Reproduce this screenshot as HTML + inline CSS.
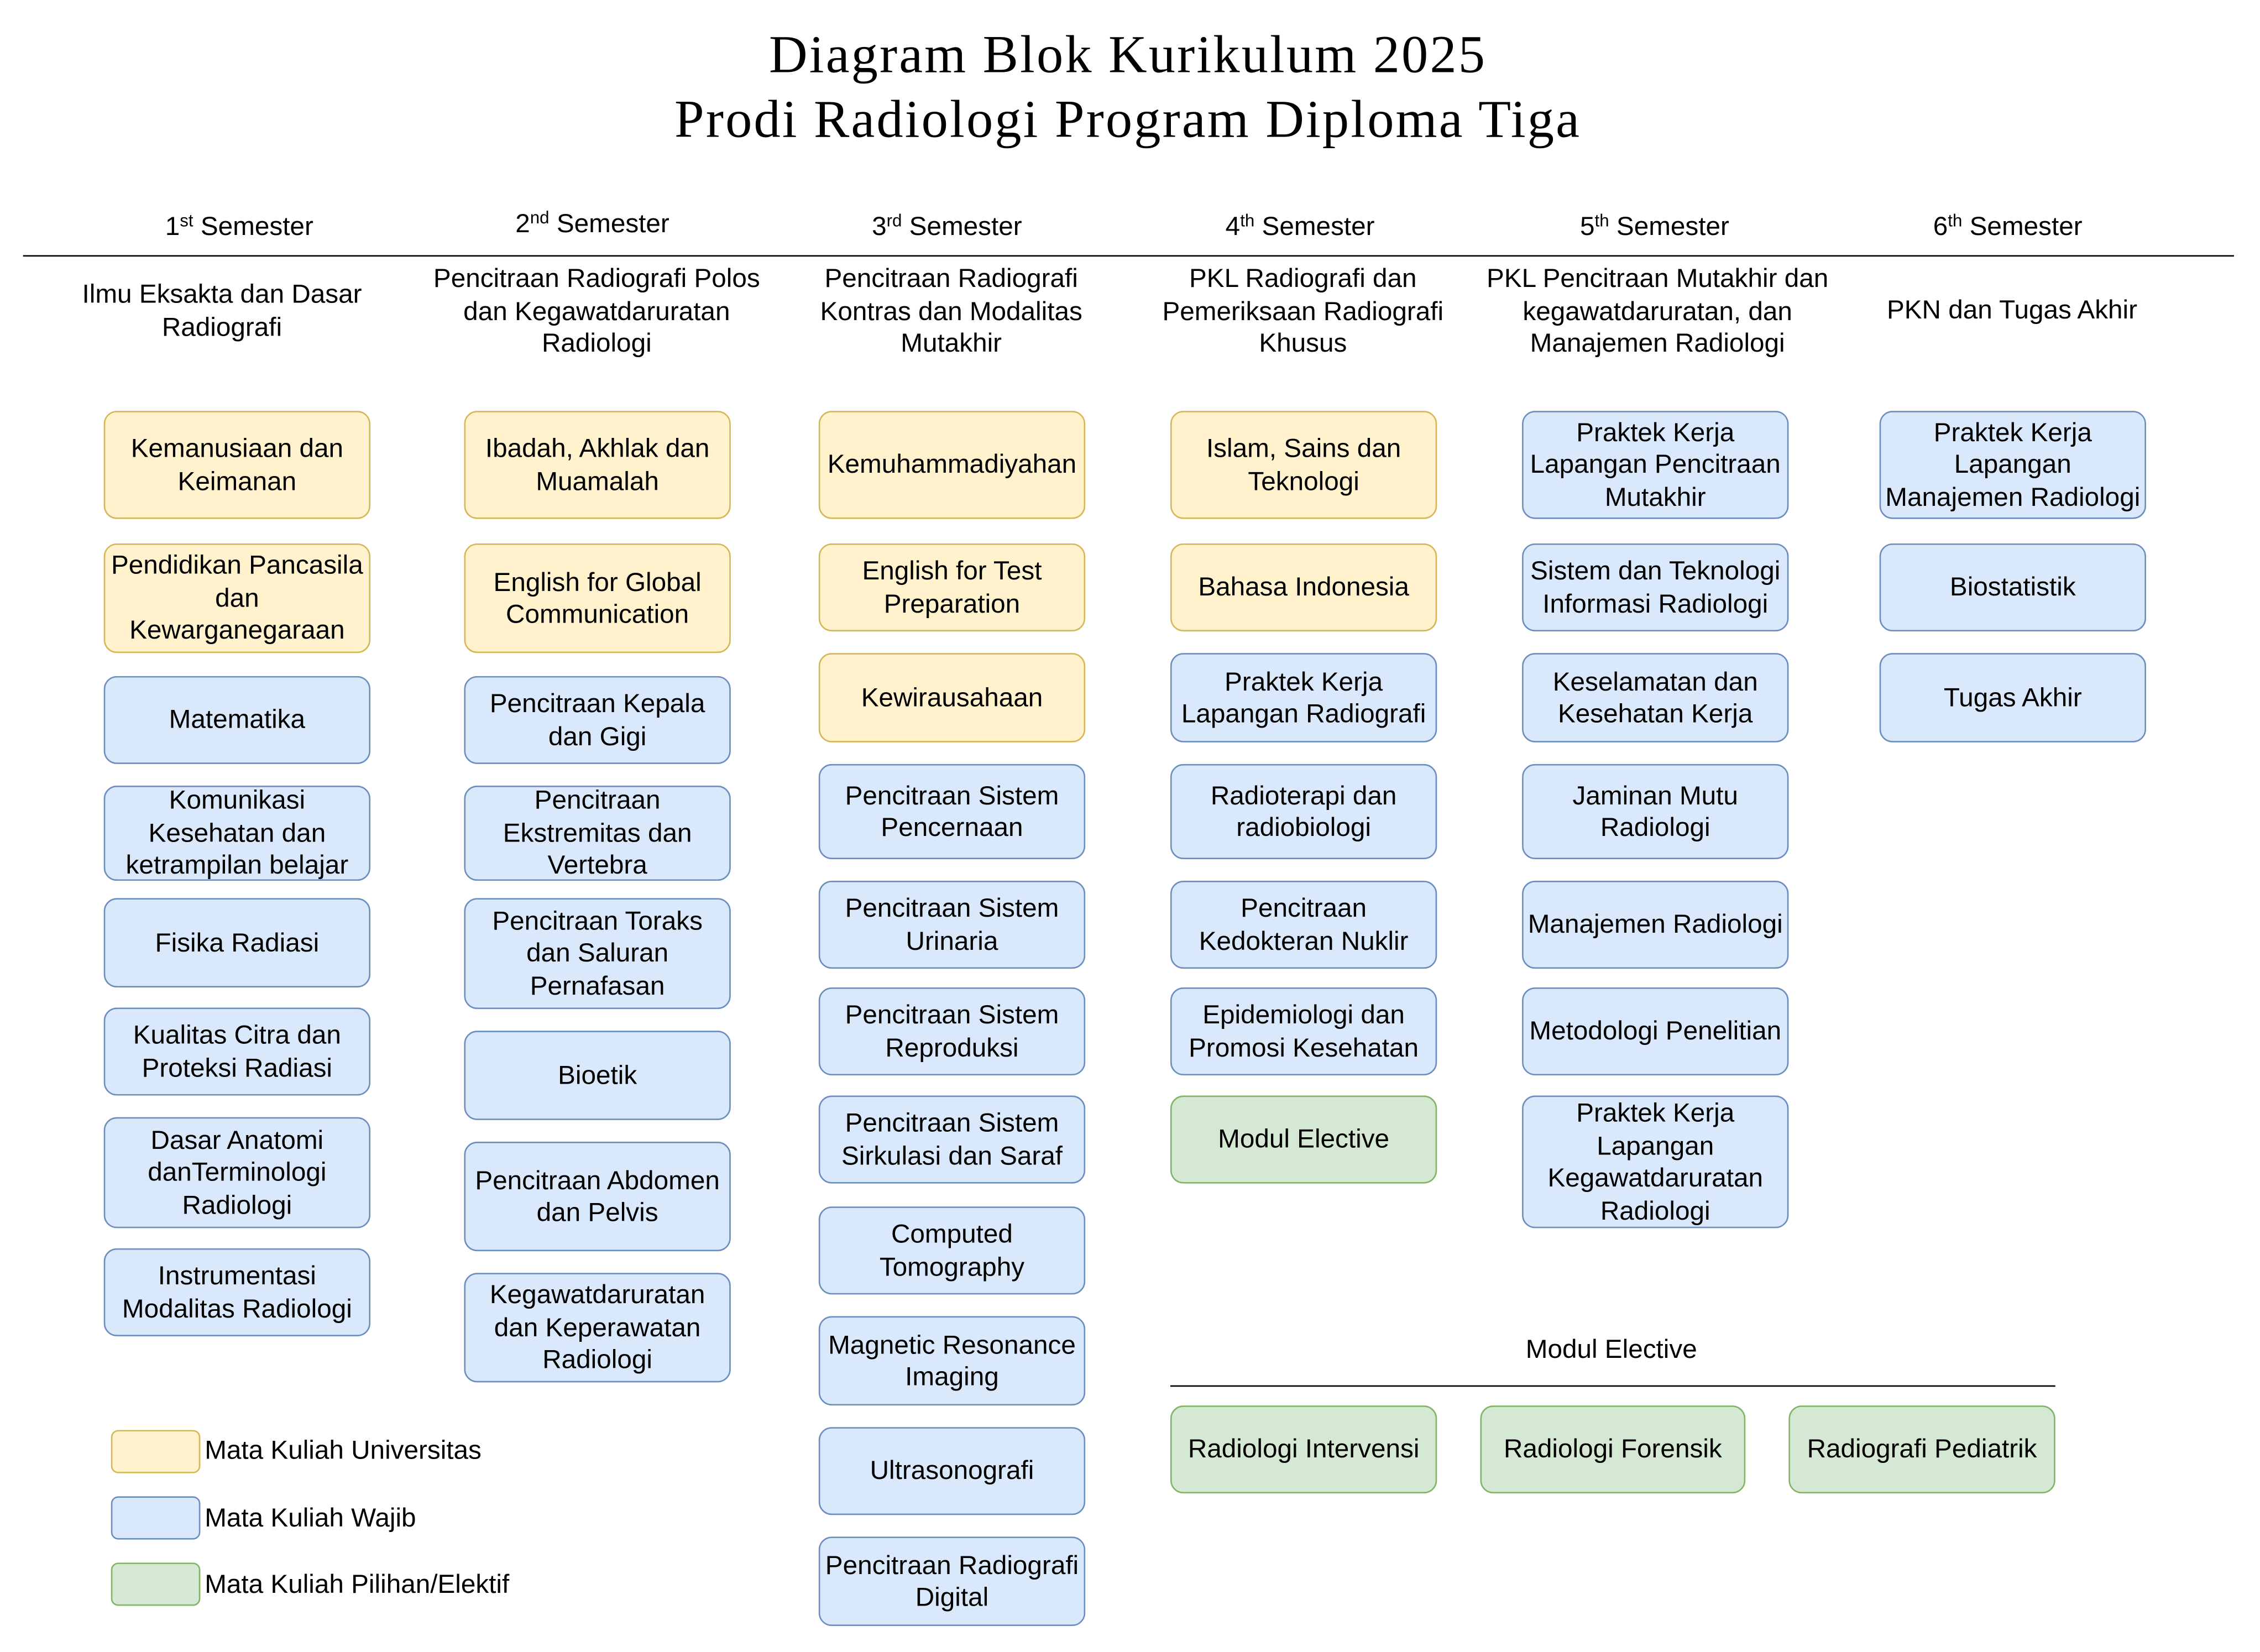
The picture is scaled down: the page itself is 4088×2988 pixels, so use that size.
<!DOCTYPE html>
<html><head><meta charset="utf-8"><style>
html,body{margin:0;padding:0;background:#fff;}
#w{width:4088px;height:2988px;overflow:hidden;position:relative;}
#c{position:absolute;left:0;top:0;width:1568px;height:1146px;transform:scale(2.6071,2.6073);transform-origin:0 0;font-family:"Liberation Sans",sans-serif;color:#000;}
.b{position:absolute;box-sizing:border-box;border-radius:9px;border:1.4px solid;display:flex;align-items:center;justify-content:center;text-align:center;font-size:18.3px;line-height:22.5px;white-space:nowrap;}
.y{background:#fff2cc;border-color:#d6b656}
.u{background:#dae8fc;border-color:#6c8ebf}
.g{background:#d5e8d4;border-color:#82b366}
.t{position:absolute;text-align:center;font-size:18.3px;line-height:22.5px;white-space:nowrap;transform:translateX(-50%);}
sup{font-size:12px;line-height:0;vertical-align:6px}
.title{position:absolute;left:0;width:1565px;text-align:center;font-family:"Liberation Serif",serif;font-size:37px;letter-spacing:1.2px;line-height:45px;top:16px;}
.lg{position:absolute;left:142px;font-size:18.3px;}
</style></head><body><div id="w"><div id="c">
<div class="title">Diagram Blok Kurikulum 2025<br>Prodi Radiologi Program Diploma Tiga</div>
<div style="position:absolute;left:16px;top:176.5px;width:1534px;height:1.5px;background:#000"></div>
<div class="t" style="left:166px;top:146px">1<sup>st</sup> Semester</div>
<div class="t" style="left:411px;top:144px">2<sup>nd</sup> Semester</div>
<div class="t" style="left:657px;top:146px">3<sup>rd</sup> Semester</div>
<div class="t" style="left:902px;top:146px">4<sup>th</sup> Semester</div>
<div class="t" style="left:1148px;top:146px">5<sup>th</sup> Semester</div>
<div class="t" style="left:1393px;top:146px">6<sup>th</sup> Semester</div>
<div class="t" style="left:154px;top:193px">Ilmu Eksakta dan Dasar<br>Radiografi</div>
<div class="t" style="left:414px;top:182px">Pencitraan Radiografi Polos<br>dan Kegawatdaruratan<br>Radiologi</div>
<div class="t" style="left:660px;top:182px">Pencitraan Radiografi<br>Kontras dan Modalitas<br>Mutakhir</div>
<div class="t" style="left:904px;top:182px">PKL Radiografi dan<br>Pemeriksaan Radiografi<br>Khusus</div>
<div class="t" style="left:1150px;top:182px">PKL Pencitraan Mutakhir dan<br>kegawatdaruratan, dan<br>Manajemen Radiologi</div>
<div class="t" style="left:1396px;top:204px">PKN dan Tugas Akhir</div>

<div class="b y" style="left:72px;top:285px;width:185px;height:75px">Kemanusiaan dan<br>Keimanan</div>
<div class="b y" style="left:72px;top:377px;width:185px;height:76px">Pendidikan Pancasila<br>dan<br>Kewarganegaraan</div>
<div class="b u" style="left:72px;top:469px;width:185px;height:61px">Matematika</div>
<div class="b u" style="left:72px;top:545px;width:185px;height:66px">Komunikasi<br>Kesehatan dan<br>ketrampilan belajar</div>
<div class="b u" style="left:72px;top:623px;width:185px;height:62px">Fisika Radiasi</div>
<div class="b u" style="left:72px;top:699px;width:185px;height:61px">Kualitas Citra dan<br>Proteksi Radiasi</div>
<div class="b u" style="left:72px;top:775px;width:185px;height:77px">Dasar Anatomi<br>danTerminologi<br>Radiologi</div>
<div class="b u" style="left:72px;top:866px;width:185px;height:61px">Instrumentasi<br>Modalitas Radiologi</div>

<div class="b y" style="left:322px;top:285px;width:185px;height:75px">Ibadah, Akhlak dan<br>Muamalah</div>
<div class="b y" style="left:322px;top:377px;width:185px;height:76px">English for Global<br>Communication</div>
<div class="b u" style="left:322px;top:469px;width:185px;height:61px">Pencitraan Kepala<br>dan Gigi</div>
<div class="b u" style="left:322px;top:545px;width:185px;height:66px">Pencitraan<br>Ekstremitas dan<br>Vertebra</div>
<div class="b u" style="left:322px;top:623px;width:185px;height:77px">Pencitraan Toraks<br>dan Saluran<br>Pernafasan</div>
<div class="b u" style="left:322px;top:715px;width:185px;height:62px">Bioetik</div>
<div class="b u" style="left:322px;top:792px;width:185px;height:76px">Pencitraan Abdomen<br>dan Pelvis</div>
<div class="b u" style="left:322px;top:883px;width:185px;height:76px">Kegawatdaruratan<br>dan Keperawatan<br>Radiologi</div>

<div class="b y" style="left:568px;top:285px;width:185px;height:75px">Kemuhammadiyahan</div>
<div class="b y" style="left:568px;top:377px;width:185px;height:61px">English for Test<br>Preparation</div>
<div class="b y" style="left:568px;top:453px;width:185px;height:62px">Kewirausahaan</div>
<div class="b u" style="left:568px;top:530px;width:185px;height:66px">Pencitraan Sistem<br>Pencernaan</div>
<div class="b u" style="left:568px;top:611px;width:185px;height:61px">Pencitraan Sistem<br>Urinaria</div>
<div class="b u" style="left:568px;top:685px;width:185px;height:61px">Pencitraan Sistem<br>Reproduksi</div>
<div class="b u" style="left:568px;top:760px;width:185px;height:61px">Pencitraan Sistem<br>Sirkulasi dan Saraf</div>
<div class="b u" style="left:568px;top:837px;width:185px;height:61px">Computed<br>Tomography</div>
<div class="b u" style="left:568px;top:913px;width:185px;height:62px">Magnetic Resonance<br>Imaging</div>
<div class="b u" style="left:568px;top:990px;width:185px;height:61px">Ultrasonografi</div>
<div class="b u" style="left:568px;top:1066px;width:185px;height:62px">Pencitraan Radiografi<br>Digital</div>

<div class="b y" style="left:812px;top:285px;width:185px;height:75px">Islam, Sains dan<br>Teknologi</div>
<div class="b y" style="left:812px;top:377px;width:185px;height:61px">Bahasa Indonesia</div>
<div class="b u" style="left:812px;top:453px;width:185px;height:62px">Praktek Kerja<br>Lapangan Radiografi</div>
<div class="b u" style="left:812px;top:530px;width:185px;height:66px">Radioterapi dan<br>radiobiologi</div>
<div class="b u" style="left:812px;top:611px;width:185px;height:61px">Pencitraan<br>Kedokteran Nuklir</div>
<div class="b u" style="left:812px;top:685px;width:185px;height:61px">Epidemiologi dan<br>Promosi Kesehatan</div>
<div class="b g" style="left:812px;top:760px;width:185px;height:61px">Modul Elective</div>

<div class="b u" style="left:1056px;top:285px;width:185px;height:75px">Praktek Kerja<br>Lapangan Pencitraan<br>Mutakhir</div>
<div class="b u" style="left:1056px;top:377px;width:185px;height:61px">Sistem dan Teknologi<br>Informasi Radiologi</div>
<div class="b u" style="left:1056px;top:453px;width:185px;height:62px">Keselamatan dan<br>Kesehatan Kerja</div>
<div class="b u" style="left:1056px;top:530px;width:185px;height:66px">Jaminan Mutu<br>Radiologi</div>
<div class="b u" style="left:1056px;top:611px;width:185px;height:61px">Manajemen Radiologi</div>
<div class="b u" style="left:1056px;top:685px;width:185px;height:61px">Metodologi Penelitian</div>
<div class="b u" style="left:1056px;top:760px;width:185px;height:92px">Praktek Kerja<br>Lapangan<br>Kegawatdaruratan<br>Radiologi</div>

<div class="b u" style="left:1304px;top:285px;width:185px;height:75px">Praktek Kerja<br>Lapangan<br>Manajemen Radiologi</div>
<div class="b u" style="left:1304px;top:377px;width:185px;height:61px">Biostatistik</div>
<div class="b u" style="left:1304px;top:453px;width:185px;height:62px">Tugas Akhir</div>

<div class="t" style="left:1118px;top:925px">Modul Elective</div>
<div style="position:absolute;left:812px;top:960.5px;width:614px;height:1.4px;background:#000"></div>
<div class="b g" style="left:812px;top:975px;width:185px;height:61px">Radiologi Intervensi</div>
<div class="b g" style="left:1027px;top:975px;width:184px;height:61px">Radiologi Forensik</div>
<div class="b g" style="left:1241px;top:975px;width:185px;height:61px">Radiografi Pediatrik</div>

<div class="b y" style="left:77px;top:992px;width:62px;height:30px;border-radius:5px"></div>
<div class="b u" style="left:77px;top:1038px;width:62px;height:30px;border-radius:5px"></div>
<div class="b g" style="left:77px;top:1084px;width:62px;height:30px;border-radius:5px"></div>
<div class="lg" style="top:995px">Mata Kuliah Universitas</div>
<div class="lg" style="top:1042px">Mata Kuliah Wajib</div>
<div class="lg" style="top:1088px">Mata Kuliah Pilihan/Elektif</div>
</div></div></body></html>
